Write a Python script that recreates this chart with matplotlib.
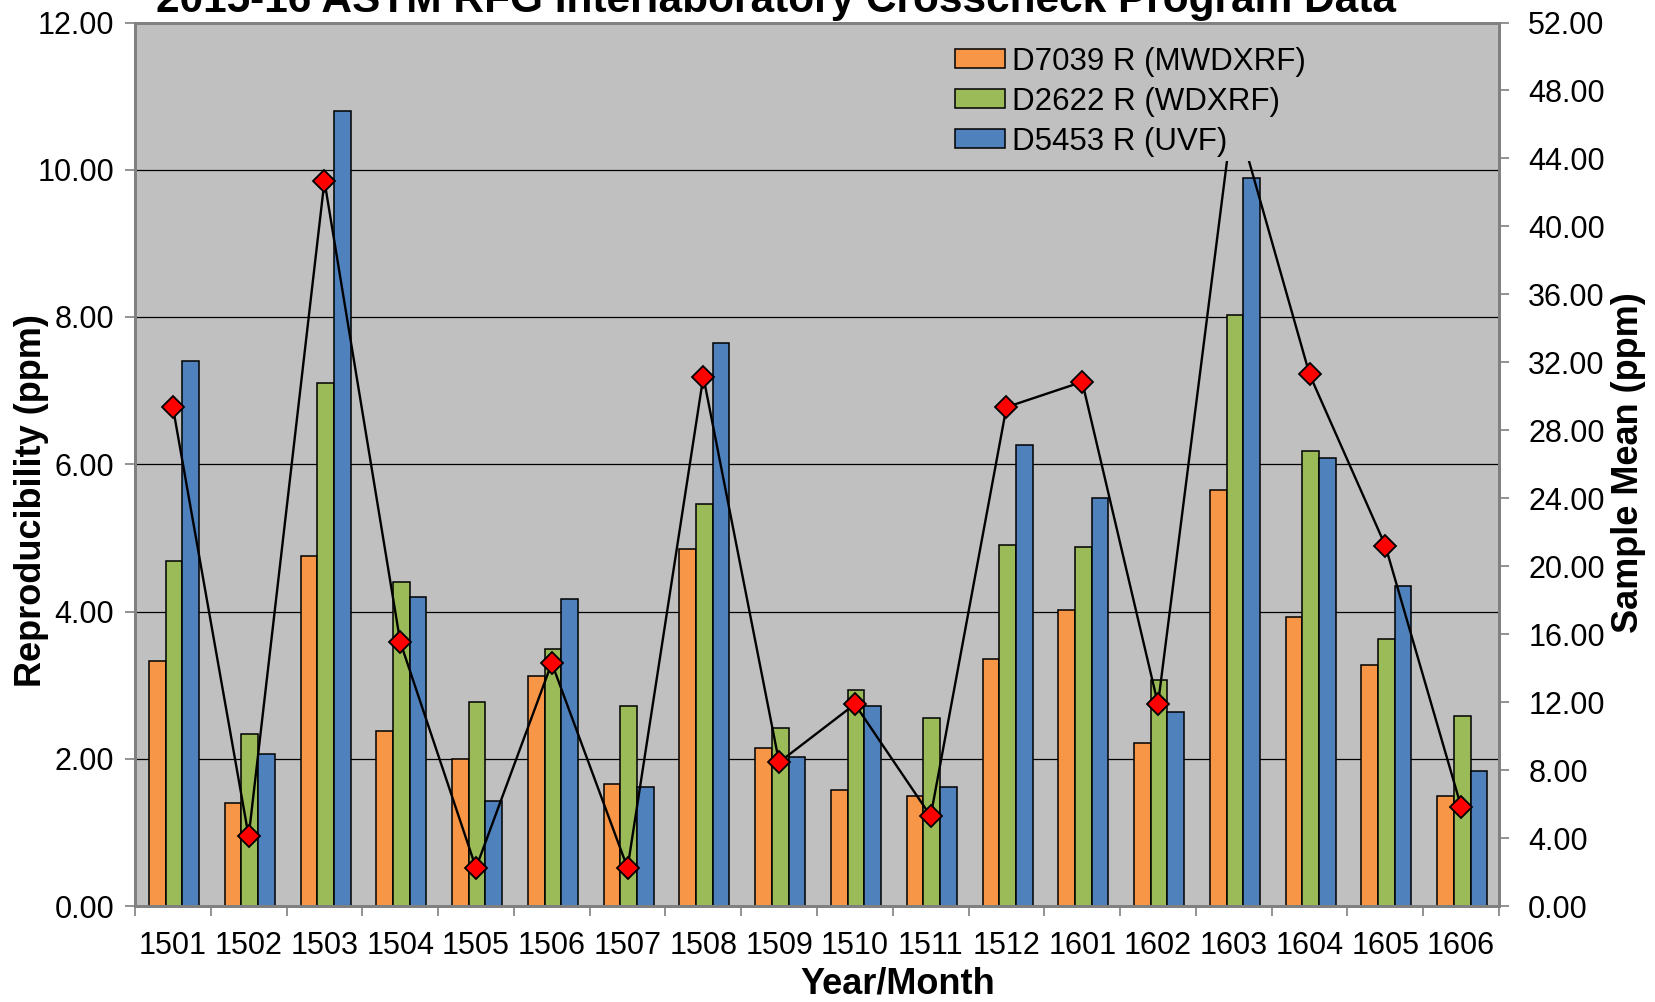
import matplotlib
matplotlib.use("Agg")
import matplotlib.pyplot as plt
import numpy as np
from matplotlib.ticker import FixedLocator, FormatStrFormatter

plt.rcParams['font.family'] = ['Liberation Sans', 'DejaVu Sans']

months = ["1501", "1502", "1503", "1504", "1505", "1506", "1507", "1508", "1509",
          "1510", "1511", "1512", "1601", "1602", "1603", "1604", "1605", "1606"]
d7039 = [3.33, 1.40, 4.76, 2.38, 1.99, 3.13, 1.66, 4.85, 2.14,
         1.58, 1.50, 3.35, 4.02, 2.22, 5.65, 3.93, 3.27, 1.50]
d2622 = [4.68, 2.33, 7.10, 4.40, 2.77, 3.49, 2.71, 5.46, 2.42,
         2.94, 2.55, 4.90, 4.88, 3.07, 8.03, 6.18, 3.63, 2.58]
d5453 = [7.40, 2.07, 10.80, 4.20, 1.42, 4.17, 1.61, 7.65, 2.03,
         2.72, 1.61, 6.26, 5.54, 2.63, 9.89, 6.09, 4.35, 1.83]
sample_mean = [29.36, 4.10, 42.67, 15.55, 2.24, 14.30, 2.24, 31.16, 8.46,
               11.88, 5.29, 29.36, 30.85, 11.88, 47.0, 31.29, 21.21, 5.85]
series_names = ["D7039 R (MWDXRF)", "D2622 R (WDXRF)", "D5453 R (UVF)"]
colors = ["#F79646", "#9BBB59", "#4F81BD"]

W, H = 1655, 1002
fig = plt.figure(figsize=(W / 100, H / 100), dpi=100)
ax = fig.add_axes([135 / W, 1 - 906 / H, (1499 - 135) / W, (906 - 22.5) / H])
ax.set_facecolor("#C0C0C0")

x = np.arange(len(months))
bw = 0.22
handles = []
for i, (vals, c, name) in enumerate(zip([d7039, d2622, d5453], colors, series_names)):
    h = ax.bar(x + (i - 1) * bw + 0.015, vals, width=bw, color=c, edgecolor="black",
               linewidth=1.1, label=name, zorder=2)
    handles.append(h)

ax.set_xlim(-0.5, len(months) - 0.5)
ax.set_ylim(0, 12)
ax.set_yticks(np.arange(0, 12.01, 2))
ax.yaxis.set_major_formatter(FormatStrFormatter("%.2f"))
ax.grid(axis="y", color="black", linewidth=0.9, zorder=1)
ax.set_axisbelow(True)
ax.set_xticks(x)
ax.set_xticklabels(months, fontsize=22)
ax.xaxis.set_minor_locator(FixedLocator(np.arange(-0.5, len(months), 1.0)))
ax.tick_params(axis="x", which="major", length=0, pad=18)
ax.tick_params(axis="x", which="minor", length=7, width=1.2, color="#808080", direction="out")
ax.tick_params(axis="y", which="major", length=7, width=1.2, color="#808080",
               labelsize=22, pad=8, direction="out")
for s in ["left", "bottom", "right", "top"]:
    ax.spines[s].set_color("#808080")
    ax.spines[s].set_linewidth(2)

ax2 = ax.twinx()
ax2.set_ylim(0, 52)
ax2.set_yticks(np.arange(0, 52.01, 4))
ax2.yaxis.set_major_formatter(FormatStrFormatter("%.2f"))
ax2.tick_params(axis="y", length=7, width=1.2, color="#808080", labelsize=22, pad=14, direction="out")
for s in ["left", "bottom", "right", "top"]:
    ax2.spines[s].set_color("#808080")
    ax2.spines[s].set_linewidth(2)
ax2.plot(x, sample_mean, color="black", linewidth=1.7, marker="D", markersize=11,
         markerfacecolor="red", markeredgecolor="black", markeredgewidth=1.3, zorder=3)

leg = ax2.legend(handles, series_names, loc="upper left",
                 bbox_to_anchor=(950 / W, 1 - 42 / H), bbox_transform=fig.transFigure,
                 fontsize=22.5, frameon=True, facecolor="#C0C0C0", edgecolor="none",
                 framealpha=1, borderpad=0.15, borderaxespad=0, handlelength=1.6,
                 handleheight=0.55, handletextpad=0.25, labelspacing=0.32)
leg.set_zorder(5)

fig.text(776 / W, 1 - 12 / H, "2015-16 ASTM RFG Interlaboratory Crosscheck Program Data",
         ha="center", va="baseline", fontsize=30.5, fontweight="bold")
fig.text(898 / W, 1 - 984 / H, "Year/Month", ha="center", va="center",
         fontsize=26, fontweight="bold")
fig.text(32 / W, 1 - 501 / H, "Reproducibility (ppm)", ha="center", va="center",
         rotation=90, fontsize=26, fontweight="bold")
fig.text(1628 / W, 1 - 463 / H, "Sample Mean (ppm)", ha="center", va="center",
         rotation=90, fontsize=26, fontweight="bold")

fig.savefig("out.png", dpi=100, facecolor="white")
